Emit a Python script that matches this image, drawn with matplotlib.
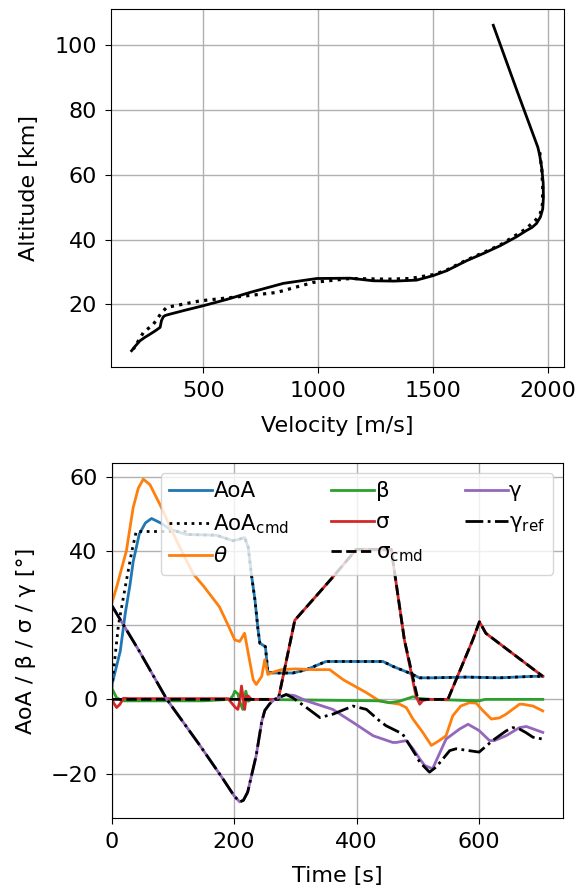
import matplotlib
matplotlib.use("Agg")
import matplotlib.pyplot as plt

plt.rcParams['font.family'] = ['DejaVu Sans']
plt.rcParams['font.size'] = 16
plt.rcParams['mathtext.default'] = 'regular'
plt.rcParams['xtick.major.size'] = 4.5
plt.rcParams['ytick.major.size'] = 4.5
plt.rcParams['xtick.major.pad'] = 5.5
plt.rcParams['ytick.major.pad'] = 5.5

# ---------------- Top panel: altitude vs velocity ----------------
vel_sim = [1761, 1864, 1955, 1963, 1972, 1978, 1979, 1976, 1966, 1949, 1930, 1905,
           1860, 1790, 1720, 1645, 1558, 1500, 1427, 1330, 1239, 1138, 993, 848,
           703, 600, 500, 420, 355, 335, 326, 318, 312, 290, 268, 245, 225, 205, 188]
alt_sim = [106.2, 86.0, 68.5, 66.0, 62.0, 57.5, 53.0, 49.5, 47.0, 45.0, 43.8, 42.8,
           40.8, 38.1, 35.8, 33.5, 30.4, 28.9, 27.5, 27.2, 27.3, 28.1, 28.0, 26.5,
           23.7, 21.5, 19.6, 18.2, 17.0, 16.6, 16.2, 15.0, 12.9, 11.8, 10.8, 9.8, 8.8,
           7.2, 5.7]

vel_ref = [1963, 1972, 1976, 1975, 1965, 1945, 1900, 1790, 1645, 1558, 1500, 1400,
           1300, 1138, 978, 819, 630, 486, 341, 319, 283, 239, 196]
alt_ref = [67.0, 61.5, 56.0, 51.0, 48.0, 46.0, 43.2, 38.3, 33.7, 30.6, 29.2, 28.0,
           27.8, 28.0, 26.8, 23.7, 22.2, 21.1, 19.1, 17.5, 13.9, 11.3, 6.2]

# ---------------- Bottom panel: angles vs time ----------------
t_aoa = [0, 5, 14, 22, 30, 35, 45, 55, 65, 80, 95, 122, 171, 198, 210, 217, 223, 228,
         234, 239, 242, 247, 251, 255, 264, 296, 318, 350, 443, 459, 486, 503, 524,
         579, 633, 688, 704]
aoa = [3.5, 7.0, 13.0, 23.0, 31.0, 37.0, 44.5, 47.5, 48.7, 47.5, 45.8, 44.4, 44.2,
       42.7, 43.2, 43.6, 40.9, 33.8, 26.7, 18.7, 15.1, 14.6, 14.2, 7.4, 7.1, 7.1, 8.0,
       10.2, 10.2, 8.9, 7.1, 5.8, 5.8, 6.0, 5.8, 6.2, 6.2]

t_aoa_cmd = [0, 11, 24, 33, 40, 120, 122, 171, 198, 210, 217, 223, 228, 234, 239, 242,
             247, 251, 255, 264, 296, 318, 350, 443, 459, 486, 503, 524, 579, 633,
             688, 704]
aoa_cmd = [3.0, 20.0, 32.0, 40.0, 45.2, 45.2, 44.4, 44.2, 42.7, 43.2, 43.6, 40.9, 33.8,
           26.7, 18.7, 15.1, 14.6, 14.2, 7.4, 7.1, 7.1, 8.0, 10.2, 10.2, 8.9, 7.1, 5.8,
           5.8, 6.0, 5.8, 6.2, 6.2]

t_theta = [0, 8, 24, 35, 43.5, 51.6, 62.5, 79, 106, 133, 150, 176, 190, 201, 209, 217,
           223, 231, 236, 245, 250, 255, 265, 277, 300, 331, 356, 378, 416, 437, 454,
           470, 481, 492, 508, 522, 535, 546, 557, 570, 584, 595, 606, 620, 633, 644,
           666, 671, 688, 704]
theta = [25.8, 30.2, 40.0, 51.6, 56.9, 59.3, 57.8, 52.4, 42.7, 33.8, 30.5, 24.9, 20.0,
         16.0, 15.6, 17.8, 12.4, 5.3, 4.0, 6.2, 10.7, 6.7, 7.4, 8.0, 8.2, 8.0, 8.0, 5.3,
         1.8, -0.4, -0.9, -1.3, -2.2, -5.3, -8.9, -12.4, -11.1, -9.8, -4.4, -1.8, -0.9,
         -1.0, -3.0, -5.3, -5.0, -4.0, -1.3, -1.3, -1.8, -3.1]

t_beta = [0, 8, 19, 150, 193, 198, 201, 206, 210, 214, 219, 223, 228, 437, 454, 470,
          492, 500, 520, 600, 610, 620, 704]
beta = [3.1, 0.4, -0.4, -0.4, 0.0, 1.0, 2.2, 1.5, -1.0, -2.7, 2.2, -0.5, 0.0, -0.4,
        -0.9, -0.5, 0.7, 0.3, 0.0, -0.4, 0.0, 0.0, 0.0]

t_sigma = [0, 4, 8, 13.6, 19, 30, 190, 196, 202, 206, 209, 212, 215, 217, 220, 223, 228,
           272, 299, 361, 399.5, 456.5, 478, 497, 503, 508, 516, 549, 589.6, 600.5,
           611, 704]
sigma = [0.0, -1.2, -2.2, -1.3, 0.3, 0.2, 0.2, -1.0, -2.2, -2.7, -0.5, 3.6, 0.0, -2.7,
         0.9, 0.9, 0.0, 0.0, 21.3, 32.9, 40.4, 40.4, 16.0, 0.9, -1.3, -0.3, 0.0, 0.0,
         16.0, 20.9, 17.8, 6.2]

t_sigma_cmd = [0, 272, 299, 361, 399.5, 456.5, 478, 500, 549, 589.6, 600.5, 611, 704]
sigma_cmd = [0.0, 0.0, 21.3, 32.9, 40.4, 40.4, 16.0, 0.0, 0.0, 16.0, 20.9, 17.8, 6.2]

t_gamma = [0, 45, 90, 144, 180, 200, 209, 215, 222, 236, 245, 250, 258, 266, 285, 299,
           318, 361, 394, 427, 459, 465, 481, 492, 503, 511, 524, 546, 568, 582, 600,
           617, 625, 644, 666, 677, 704]
gamma = [25.3, 13.0, 0.0, -12.4, -21.0, -26.0, -27.6, -27.2, -25.0, -15.1, -6.0, -3.0,
         -1.2, 0.0, 1.3, 1.0, -0.4, -2.7, -6.2, -9.8, -11.6, -11.6, -11.1, -13.3, -16.0,
         -17.8, -18.7, -10.7, -8.0, -6.7, -8.4, -11.1, -11.1, -9.8, -7.6, -7.3, -8.9]

t_gamma_ref = [0, 45, 90, 144, 180, 200, 209, 215, 222, 236, 245, 250, 258, 266, 285,
               296, 318, 340, 361, 394, 416, 437.5, 448, 475, 497, 503, 519, 530, 552,
               562.5, 600, 622, 644, 655, 666, 676, 688, 704]
gamma_ref = [25.3, 13.0, 0.0, -12.4, -21.0, -26.0, -27.6, -27.2, -25.0, -15.1, -6.0,
             -3.0, -1.2, 0.0, 1.3, 0.4, -2.2, -4.9, -4.0, -1.8, -2.7, -5.8, -7.1, -9.3,
             -15.1, -16.9, -19.6, -18.2, -13.8, -13.3, -14.2, -11.1, -8.5, -7.6, -8.0,
             -8.9, -10.2, -10.7]

fig = plt.figure(figsize=(5.85, 8.93), dpi=100)
W, H = 585, 893
ax1 = fig.add_axes([111/W, 1-367/H, (564-111)/W, (367-9)/H])
ax2 = fig.add_axes([111.7/W, 1-818/H, (563-111.7)/W, (818-463)/H])

lw = 2.0
ax1.plot(vel_ref, alt_ref, color='black', ls=':', lw=lw + 0.3)
ax1.plot(vel_sim, alt_sim, color='black', ls='-', lw=lw)
ax1.set_xlabel('Velocity [m/s]', labelpad=11)
ax1.set_ylabel('Altitude [km]', labelpad=11)
ax1.set_xticks([500, 1000, 1500, 2000])
ax1.set_yticks([20, 40, 60, 80, 100])
ax1.grid(True, lw=1.0)

ax2.plot(t_aoa, aoa, color='C0', lw=lw, label='AoA')
ax2.plot(t_aoa_cmd, aoa_cmd, color='black', ls=':', lw=lw, label='AoA$_{cmd}$')
ax2.plot(t_theta, theta, color='C1', lw=lw, label=r'$\it{\theta}$')
ax2.plot(t_beta, beta, color='C2', lw=lw, label='β')
ax2.plot(t_sigma, sigma, color='C3', lw=lw, label='σ')
ax2.plot(t_sigma_cmd, sigma_cmd, color='black', ls='--', lw=lw, label='σ$_{cmd}$')
ax2.plot(t_gamma, gamma, color='C4', lw=lw, label='γ')
ax2.plot(t_gamma_ref, gamma_ref, color='black', ls='-.', lw=lw, label='γ$_{ref}$')
ax2.set_xlim(0, 737)
ax2.set_xticks([0, 200, 400, 600])
ax2.set_yticks([-20, 0, 20, 40, 60])
ax2.set_xlabel('Time [s]', labelpad=10)
ax2.set_ylabel('AoA / β / σ / γ [°]', labelpad=11)
ax2.grid(True, lw=1.0)
ax2.legend(loc='upper right', ncol=3, handletextpad=0.05, columnspacing=1.95,
           fontsize=15.5, borderaxespad=0.45)

fig.savefig('out.png', dpi=100)
